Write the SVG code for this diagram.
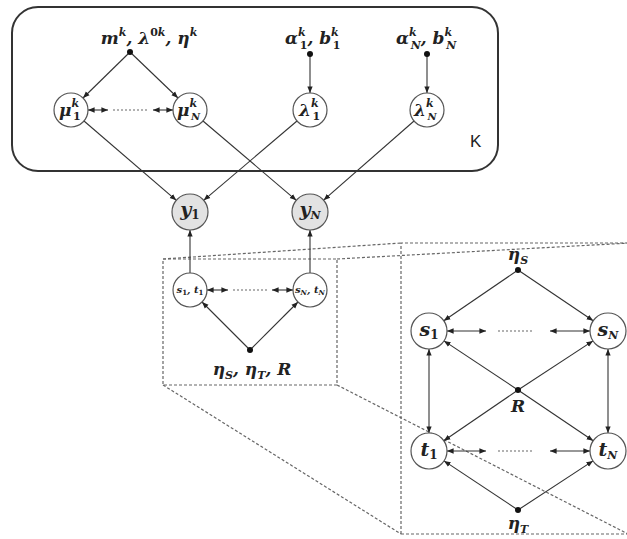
<svg xmlns="http://www.w3.org/2000/svg" width="627" height="539" viewBox="0 0 627 539">
<defs>
<style>
.m{font-family:"DejaVu Serif","Liberation Serif",serif;font-style:italic;font-weight:bold;fill:#222}
.up{font-style:normal}
.e{stroke:#333;stroke-width:1.1;fill:none}
.d{stroke:#999;stroke-width:1.3;stroke-dasharray:2 2;fill:none}
.z{stroke:#666;stroke-width:1.2;stroke-dasharray:3 2;fill:none}
.n{fill:#fff;stroke:#555;stroke-width:1.2}
.g{fill:#e2e2e2;stroke:#555;stroke-width:1.2}
.dot{fill:#111}
.ar{marker-end:url(#a)}
.bi{marker-start:url(#a);marker-end:url(#a)}
</style>
<marker id="a" viewBox="0 0 10 10" refX="10" refY="5" markerWidth="6" markerHeight="6" orient="auto-start-reverse"><path d="M0,1L10,5L0,9z" fill="#222"/></marker>
</defs>
<rect width="627" height="539" fill="#fff"/>

<g id="zoom-frame">
<rect class="z" x="163" y="259" width="174" height="126"/>
<path class="z" d="M401,534V243H630M401,534H630"/>
<path class="z" d="M163,259L401,243M337,259L630,243M163,385L401,534M337,385L630,535"/>
</g>

<g id="plate-K">
<rect x="12" y="7" width="486" height="164" rx="26" fill="none" stroke="#333" stroke-width="2"/>
<text x="470" y="147" font-family="Liberation Sans, Arial, sans-serif" font-size="17" fill="#222">K</text>
</g>

<g id="connectors">
<line class="e ar" x1="130" y1="52" x2="83" y2="98"/>
<line class="e ar" x1="130" y1="52" x2="178" y2="98"/>
<line class="e ar" x1="310" y1="54" x2="310" y2="93"/>
<line class="e ar" x1="427" y1="54" x2="427" y2="93"/>
<line class="e bi" x1="88" y1="110" x2="108" y2="110"/>
<line class="d" x1="113" y1="110" x2="148" y2="110"/>
<line class="e bi" x1="153" y1="110" x2="173" y2="110"/>
<line class="e ar" x1="84" y1="121" x2="176.3" y2="200.3"/>
<line class="e ar" x1="203" y1="121" x2="296.3" y2="200.3"/>
<line class="e ar" x1="297" y1="121" x2="203.7" y2="200.3"/>
<line class="e ar" x1="414" y1="121" x2="323.6" y2="200.2"/>
<line class="e ar" x1="190" y1="273" x2="190" y2="230"/>
<line class="e ar" x1="310" y1="273" x2="310" y2="230"/>
<line class="e ar" x1="250" y1="350" x2="202" y2="302"/>
<line class="e ar" x1="250" y1="350" x2="298" y2="302"/>
<line class="e bi" x1="207" y1="290" x2="228" y2="290"/>
<line class="d" x1="233" y1="290" x2="267" y2="290"/>
<line class="e bi" x1="272" y1="290" x2="293" y2="290"/>

<line class="e ar" x1="518" y1="270" x2="443.8" y2="320.8"/>
<line class="e ar" x1="518" y1="270" x2="593.2" y2="320.8"/>
<line class="e ar" x1="518" y1="390" x2="444" y2="340.9"/>
<line class="e ar" x1="518" y1="390" x2="593" y2="340.9"/>
<line class="e ar" x1="518" y1="390" x2="443.8" y2="440.8"/>
<line class="e ar" x1="518" y1="390" x2="593.2" y2="440.8"/>
<line class="e ar" x1="518" y1="510" x2="444" y2="460.9"/>
<line class="e ar" x1="518" y1="510" x2="593" y2="460.9"/>
<line class="e bi" x1="429" y1="349" x2="429" y2="433"/>
<line class="e bi" x1="608" y1="349" x2="608" y2="433"/>
<line class="e bi" x1="447" y1="331" x2="486" y2="331"/>
<line class="d" x1="498" y1="331" x2="534" y2="331"/>
<line class="e bi" x1="550" y1="331" x2="590" y2="331"/>
<line class="e bi" x1="447" y1="451" x2="486" y2="451"/>
<line class="d" x1="498" y1="451" x2="534" y2="451"/>
<line class="e bi" x1="550" y1="451" x2="590" y2="451"/>
</g>

<g id="hyper-mu">
<circle class="dot" cx="130" cy="52" r="3"/>
<text class="m" x="149" y="44" font-size="17" text-anchor="middle">m<tspan font-size="11" dy="-8">k</tspan><tspan dy="8">, λ</tspan><tspan font-size="11" dy="-8"><tspan class="up">0</tspan>k</tspan><tspan dy="8">, η</tspan><tspan font-size="11" dy="-8">k</tspan></text>
</g>
<g id="hyper-lambda1">
<circle class="dot" cx="310" cy="54" r="3"/>
<text class="m" x="285" y="44" font-size="17">α<tspan font-size="11" dy="-8">k</tspan><tspan font-size="11" class="up" dx="-6" dy="13">1</tspan><tspan dy="-5">, b</tspan><tspan font-size="11" dy="-8">k</tspan><tspan font-size="11" class="up" dx="-6" dy="13">1</tspan></text>
</g>
<g id="hyper-lambdaN">
<circle class="dot" cx="427" cy="54" r="3"/>
<text class="m" x="396" y="44" font-size="17">α<tspan font-size="11" dy="-8">k</tspan><tspan font-size="11" dx="-6" dy="13">N</tspan><tspan dy="-5">, b</tspan><tspan font-size="11" dy="-8">k</tspan><tspan font-size="11" dx="-6" dy="13">N</tspan></text>
</g>

<g id="mu1"><circle class="n" cx="71" cy="110" r="17"/><text class="m" x="59" y="116" font-size="17">μ<tspan font-size="11" dy="-9">k</tspan><tspan font-size="11" class="up" dx="-6" dy="13">1</tspan></text></g>
<g id="muN"><circle class="n" cx="190" cy="110" r="17"/><text class="m" x="177" y="116" font-size="17">μ<tspan font-size="11" dy="-9">k</tspan><tspan font-size="10" dx="-6" dy="13">N</tspan></text></g>
<g id="lambda1"><circle class="n" cx="310" cy="110" r="17"/><text class="m" x="299" y="116" font-size="17">λ<tspan font-size="11" dy="-9">k</tspan><tspan font-size="11" class="up" dx="-6" dy="13">1</tspan></text></g>
<g id="lambdaN"><circle class="n" cx="427" cy="110" r="17"/><text class="m" x="414" y="116" font-size="17">λ<tspan font-size="11" dy="-9">k</tspan><tspan font-size="10" dx="-6" dy="13">N</tspan></text></g>

<g id="y1"><circle class="g" cx="190" cy="212" r="18"/><text class="m" x="190" y="216" font-size="19" text-anchor="middle">y<tspan font-size="12" class="up" dy="3">1</tspan></text></g>
<g id="yN"><circle class="g" cx="310" cy="212" r="18"/><text class="m" x="310" y="216" font-size="19" text-anchor="middle">y<tspan font-size="11" dy="3">N</tspan></text></g>

<g id="s1t1"><circle class="n" cx="190" cy="290" r="17"/><text class="m" x="190" y="293" font-size="10" text-anchor="middle">s<tspan font-size="7" class="up" dy="2">1</tspan><tspan dy="-2">, t</tspan><tspan font-size="7" class="up" dy="2">1</tspan></text></g>
<g id="sNtN"><circle class="n" cx="310" cy="290" r="17"/><text class="m" x="310" y="293" font-size="10" text-anchor="middle">s<tspan font-size="7" dy="2">N</tspan><tspan dy="-2">, t</tspan><tspan font-size="7" dy="2">N</tspan></text></g>

<g id="hyper-st">
<circle class="dot" cx="250" cy="350" r="3"/>
<text class="m" x="252" y="375" font-size="17" text-anchor="middle">η<tspan font-size="11" dy="4">S</tspan><tspan dy="-4">, η</tspan><tspan font-size="11" dy="4">T</tspan><tspan dy="-4">, R</tspan></text>
</g>

<g id="etaS"><circle class="dot" cx="518" cy="270" r="3"/><text class="m" x="518" y="260" font-size="17" text-anchor="middle">η<tspan font-size="11" dy="4">S</tspan></text></g>
<g id="R"><circle class="dot" cx="518" cy="390" r="3"/><text class="m" x="518" y="412" font-size="17" text-anchor="middle">R</text></g>
<g id="etaT"><circle class="dot" cx="518" cy="510" r="3"/><text class="m" x="518" y="529" font-size="17" text-anchor="middle">η<tspan font-size="11" dy="4">T</tspan></text></g>

<g id="s1"><circle class="n" cx="429" cy="331" r="18"/><text class="m" x="429" y="336" font-size="19" text-anchor="middle">s<tspan font-size="12" class="up" dy="3">1</tspan></text></g>
<g id="sN"><circle class="n" cx="608" cy="331" r="18"/><text class="m" x="608" y="336" font-size="19" text-anchor="middle">s<tspan font-size="11" dy="3">N</tspan></text></g>
<g id="t1"><circle class="n" cx="429" cy="451" r="18"/><text class="m" x="429" y="456" font-size="19" text-anchor="middle">t<tspan font-size="12" class="up" dy="3">1</tspan></text></g>
<g id="tN"><circle class="n" cx="608" cy="451" r="18"/><text class="m" x="608" y="456" font-size="19" text-anchor="middle">t<tspan font-size="11" dy="3">N</tspan></text></g>
</svg>
